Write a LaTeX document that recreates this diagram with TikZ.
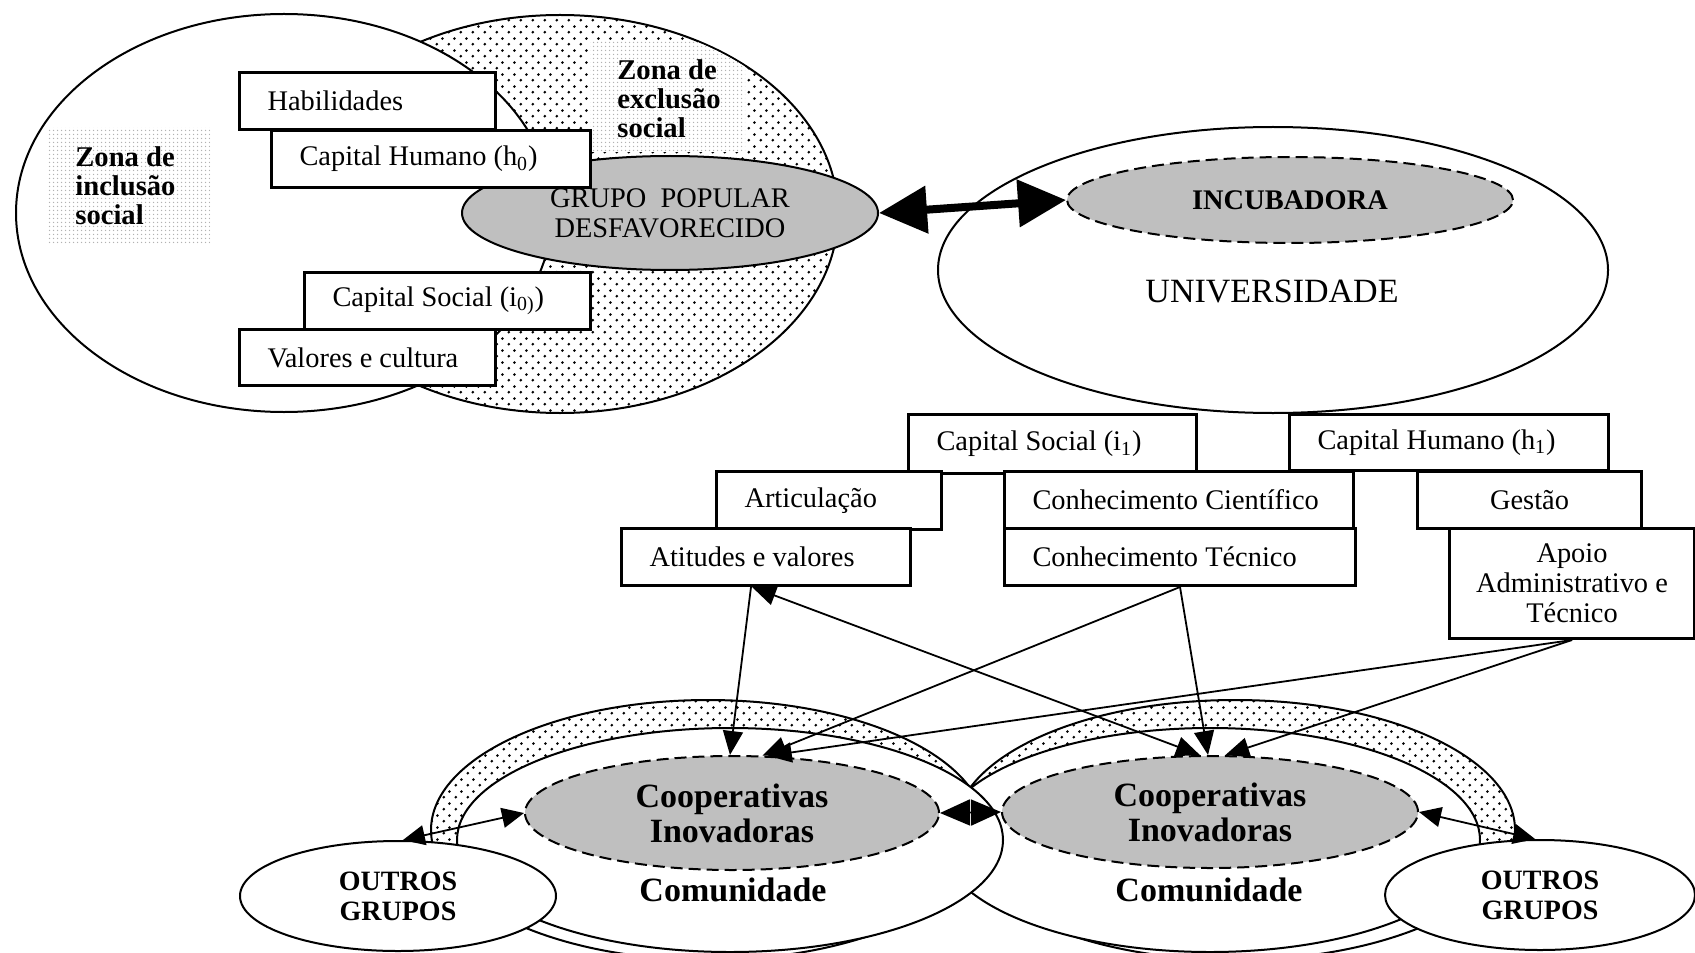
\documentclass[tikz,border=0pt]{standalone}
\usepackage{fontspec}
\setmainfont{Liberation Serif}
\usetikzlibrary{arrows.meta,shapes.geometric,patterns,calc}
\pgfdeclarepatternformonly{bigdots}{\pgfqpoint{0pt}{0pt}}{\pgfqpoint{5.8pt}{5.8pt}}{\pgfqpoint{5.8pt}{5.8pt}}{%
  \pgfpathcircle{\pgfqpoint{1.45pt}{1.45pt}}{0.75pt}%
  \pgfpathcircle{\pgfqpoint{4.35pt}{4.35pt}}{0.75pt}%
  \pgfusepath{fill}}
\pgfdeclarepatternformonly{finedots}{\pgfqpoint{0pt}{0pt}}{\pgfqpoint{2pt}{2pt}}{\pgfqpoint{2pt}{2pt}}{%
  \pgfpathcircle{\pgfqpoint{1pt}{1pt}}{0.45pt}%
  \pgfusepath{fill}}
\newcommand\fBox{\fontsize{14.2pt}{15pt}\selectfont}
\newcommand\fBoxB{\fontsize{14.2pt}{15pt}\selectfont\bfseries}
\newcommand\fZone{\fontsize{14.3pt}{14.5pt}\selectfont\bfseries}
\newcommand\fUniv{\fontsize{17pt}{18pt}\selectfont}
\newcommand\fCoop{\fontsize{17pt}{17.5pt}\selectfont\bfseries}
\newcommand\fOut{\fontsize{14pt}{15pt}\selectfont\bfseries}
\begin{document}
\begin{tikzpicture}[x=0.5pt,y=-0.5pt,
  ell/.style={ellipse, draw, line width=1pt, fill=white, inner sep=0pt},
  grayell/.style={ellipse, draw, line width=1pt, fill=black!25, inner sep=0pt},
  dashell/.style={grayell, dash pattern=on 6pt off 3pt},
  dotell/.style={ellipse, draw, line width=1pt, inner sep=0pt, preaction={fill=white}, pattern=bigdots},
  box/.style={draw, line width=1.5pt, fill=white, inner xsep=14pt, inner ysep=0pt, anchor=north west, font=\fBox},
  cbox/.style={box, align=center},
  zonebg/.style={preaction={fill=white}, pattern=finedots, pattern color=black!30},
  conn/.style={line width=0.9pt, -{Triangle[length=12pt,width=10pt]}},
  dconn/.style={line width=0.9pt, {Triangle[length=12pt,width=10pt]}-{Triangle[length=12pt,width=10pt]}},
  sideconn/.style={line width=0.9pt, {Triangle[length=11pt,width=10pt]}-{Triangle[length=11pt,width=10pt]}},
  coopconn/.style={line width=0.9pt, {Triangle[length=15pt,width=13pt]}-{Triangle[length=15pt,width=13pt]}},
  bigarr/.style={line width=4pt, {Triangle[length=24pt,width=23pt]}-{Triangle[length=24pt,width=23pt]}},
  ring/.style={line width=1pt}
]
\useasboundingbox (0,0) rectangle (1695,952);

% ---------------- top left: zones ----------------
\node[dotell, minimum width=278pt, minimum height=199pt] (excl) at (560,214) {};
\begin{scope}
  \clip (560,214) ellipse [x radius=138.5pt, y radius=99pt];
  \fill[zonebg] (590,42) rectangle (745,152);
\end{scope}
\node[ell, minimum width=268pt, minimum height=199pt] (incl) at (284,213) {};
\fill[zonebg] (47,128) rectangle (210,243);
\node[font=\fZone, align=left, anchor=west, inner sep=0pt] (zin) at (75,186) {Zona de\\inclusão\\social};
\node[font=\fZone, align=left, anchor=west, inner sep=0pt] (zex) at (617,99) {Zona de\\exclusão\\social};

\node[grayell, minimum width=208pt, minimum height=57pt, align=center, font=\fBox] (grupo) at (670,213) {GRUPO\ \ POPULAR\\DESFAVORECIDO};

\node[box, minimum width=128pt, minimum height=28.5pt] (hab) at (238,71) {\makebox[100pt][l]{Habilidades}};
\node[box, minimum width=159.5pt, minimum height=28.5pt] (ch0) at (270,129) {\makebox[131.5pt][l]{Capital Humano (h\textsubscript{0})}};
\node[box, minimum width=143pt, minimum height=28.5pt] (cs0) at (303,271) {\makebox[115pt][l]{Capital Social (i\textsubscript{0)})}};
\node[box, minimum width=128pt, minimum height=28pt] (val) at (238,328) {\makebox[100pt][l]{Valores e cultura}};

% ---------------- universidade ----------------
\node[ell, minimum width=335pt, minimum height=143pt] (univ) at (1273,270) {};
\node[dashell, minimum width=223pt, minimum height=43pt, font=\fBoxB] (incub) at (1290,200) {INCUBADORA};
\node[font=\fUniv, inner sep=0pt] (univtxt) at (1272,292) {UNIVERSIDADE};
\draw[bigarr] (grupo.east) -- (incub.west);

% ---------------- middle boxes ----------------
\node[box, minimum width=144pt, minimum height=29.5pt] (cs1) at (907,413) {\makebox[116pt][l]{Capital Social (i\textsubscript{1})}};
\node[box, minimum width=159.5pt, minimum height=28pt] (chu1) at (1288,413) {\makebox[131.5pt][l]{Capital Humano (h\textsubscript{1})}};
\node[box, minimum width=112.5pt, minimum height=29pt] (art) at (715,470) {\makebox[84.5pt][l]{Articulação}};
\node[box, minimum width=174.5pt, minimum height=28.5pt] (cci) at (1003,470) {\makebox[146.5pt][l]{Conhecimento Científico}};
\node[cbox, minimum width=112pt, minimum height=28.5pt] (ges) at (1416,470) {Gestão};
\node[box, minimum width=144.5pt, minimum height=28.5pt] (att) at (620,527) {\makebox[116.5pt][l]{Atitudes e valores}};
\node[box, minimum width=175.5pt, minimum height=28.5pt] (cte) at (1003,527) {\makebox[147.5pt][l]{Conhecimento Técnico}};
\node[cbox, minimum width=122.5pt, minimum height=55pt, inner xsep=2pt] (apo) at (1448,527) {Apoio\\Administrativo e\\Técnico};

% ---------------- bottom: communities ----------------
\begin{scope}
  \clip (0,0) rectangle (1695,845);
  \fill[preaction={fill=white}, pattern=bigdots] (708,830) ellipse [x radius=138.5pt, y radius=65pt];
  \fill[preaction={fill=white}, pattern=bigdots] (1235,830) ellipse [x radius=140pt, y radius=65pt];
\end{scope}
\draw[ring] (708,830) ellipse [x radius=138.5pt, y radius=65pt];
\draw[ring] (1235,830) ellipse [x radius=140pt, y radius=65pt];
\node[ell, minimum width=270pt, minimum height=112pt] (comR) at (1210,840) {};
\node[ell, minimum width=273pt, minimum height=112pt] (comL) at (730,840) {};

\node[dashell, minimum width=207pt, minimum height=57pt, align=center, font=\fCoop] (coopL) at (732,813) {Cooperativas\\Inovadoras};
\node[dashell, minimum width=208pt, minimum height=56pt, align=center, font=\fCoop] (coopR) at (1210,812) {Cooperativas\\Inovadoras};
\node[font=\fCoop, inner sep=0pt] (comLtxt) at (733,890) {Comunidade};
\node[font=\fCoop, inner sep=0pt] (comRtxt) at (1209,890) {Comunidade};

\node[ell, minimum width=158pt, minimum height=55pt, align=center, font=\fOut] (outL) at (398,896) {OUTROS\\GRUPOS};
\node[ell, minimum width=155pt, minimum height=55pt, align=center, font=\fOut] (outR) at (1540,895) {OUTROS\\GRUPOS};

% ---------------- connectors ----------------
\draw[sideconn] (outL.85) -- (coopL.west);
\draw[sideconn] (coopR.east) -- (outR.95);
\draw[coopconn] (coopL.east) -- (coopR.west);

\draw[conn] ($(att.south)+(-15,0)$) -- (coopL.92);
\draw[dconn] ($(att.south)+(-14,0)$) -- (coopR.100);
\draw[conn] (cte.south) -- (coopL.62);
\draw[conn] (cte.south) -- (coopR.92);
\draw[conn] (apo.south) -- (coopL.58);
\draw[conn] (apo.south) -- (coopR.75);
\end{tikzpicture}
\end{document}
